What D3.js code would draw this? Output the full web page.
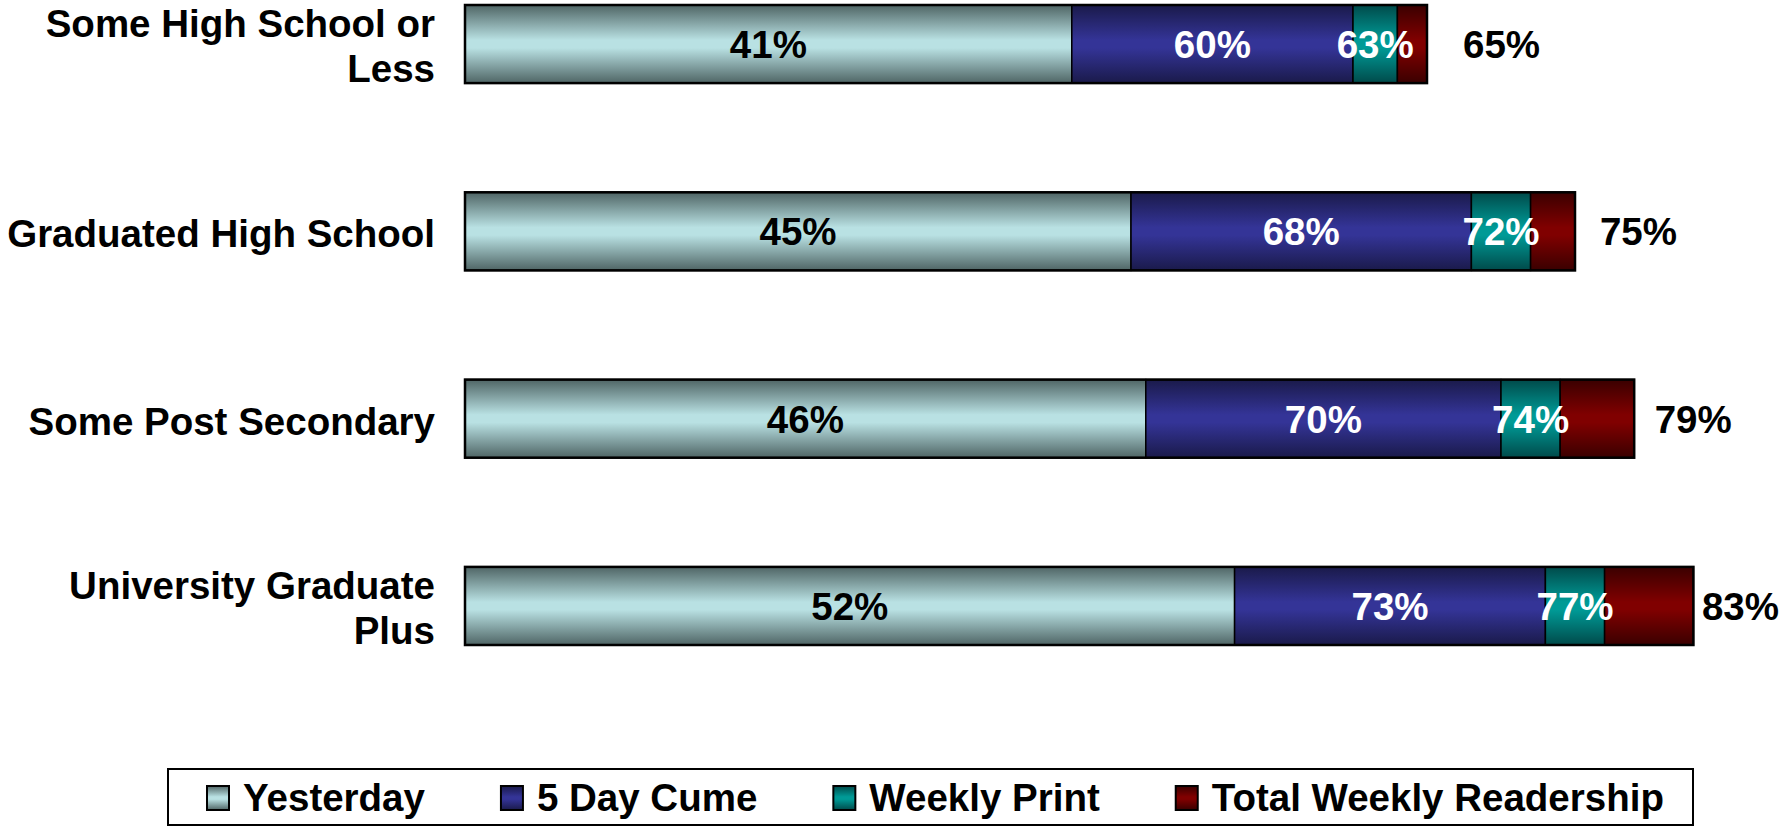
<!DOCTYPE html>
<html>
<head>
<meta charset="utf-8">
<script src="https://cdn.jsdelivr.net/npm/d3@7"></script>
<style>
  body { margin: 0; background: #fff; }
  svg text { font-family: "Liberation Sans", Arial, sans-serif; font-weight: bold; }
</style>
</head>
<body>
<svg id="chart" width="1787" height="829"></svg>
<script>
// categories, top to bottom
const categories = ["Some High School or Less", "Graduated High School", "Some Post Secondary", "University Graduate Plus"];
// cumulative reach (%), as labelled in the chart
const yesterday = [41, 45, 46, 52];
const fiveDayCume = [60, 68, 70, 73];
const weeklyPrint = [63, 72, 74, 77];
const totalWeekly = [65, 75, 79, 83];
const seriesNames = ["Yesterday", "5 Day Cume", "Weekly Print", "Total Weekly Readership"];

const width = 1787, height = 829;
const fs = 38.5;
const svg = d3.select("#chart");

const colors = [
  {dark: "#4f6565", light: "#b9e1e3"},
  {dark: "#1a1a4a", light: "#343497"},
  {dark: "#004a4a", light: "#009a96"},
  {dark: "#3a0000", light: "#800000"}
];

const defs = svg.append("defs");
colors.forEach((c, i) => {
  let g = defs.append("linearGradient").attr("id", "grad" + i)
    .attr("x1", 0).attr("y1", 0).attr("x2", 0).attr("y2", 1);
  g.append("stop").attr("offset", "0%").attr("stop-color", c.dark);
  g.append("stop").attr("offset", "45%").attr("stop-color", c.light);
  g.append("stop").attr("offset", "55%").attr("stop-color", c.light);
  g.append("stop").attr("offset", "100%").attr("stop-color", c.dark);
});

let xScale = d3.scaleLinear([0, 100], [465, 1945]);
let yScale = d3.scaleBand(categories, [5, 645]).paddingInner(0.583).paddingOuter(0);

// build segments from cumulative values
let series = [yesterday, fiveDayCume, weeklyPrint, totalWeekly];
let rows = categories.map((cat, i) => {
  let segs = [];
  let prev = 0;
  series.forEach((s, k) => {
    segs.push({cat: cat, k: k, x0: prev, x1: s[i]});
    prev = s[i];
  });
  return {cat: cat, segs: segs, total: totalWeekly[i]};
});

let barG = svg.append("g");
rows.forEach(r => {
  let y = yScale(r.cat), h = yScale.bandwidth();
  barG.selectAll(null).data(r.segs).enter().append("rect")
    .attr("x", d => xScale(d.x0))
    .attr("y", y)
    .attr("width", d => xScale(d.x1) - xScale(d.x0))
    .attr("height", h)
    .attr("fill", d => "url(#grad" + d.k + ")")
    .attr("stroke", "#000")
    .attr("stroke-width", 1.5);
  barG.append("rect")
    .attr("x", xScale(0)).attr("y", y)
    .attr("width", xScale(r.total) - xScale(0)).attr("height", h)
    .attr("fill", "none").attr("stroke", "#000").attr("stroke-width", 2.5);

  // inner labels (first three series)
  barG.selectAll(null).data(r.segs.slice(0, 3)).enter().append("text")
    .attr("x", d => xScale((d.x0 + d.x1) / 2))
    .attr("y", y + h / 2)
    .attr("dy", "0.36em")
    .attr("text-anchor", "middle")
    .attr("font-size", fs)
    .attr("fill", d => d.k === 0 ? "#000" : "#fff")
    .text(d => d.x1 + "%");
});

// total labels to the right of each bar, kept inside the page
let gapScale = d3.scaleLinear([65, 83], [36, 16]);
rows.forEach(r => {
  let t = barG.append("text")
    .attr("y", yScale(r.cat) + yScale.bandwidth() / 2)
    .attr("dy", "0.36em")
    .attr("font-size", fs)
    .attr("fill", "#000")
    .text(r.total + "%");
  let w = t.node().getComputedTextLength();
  t.attr("x", Math.min(xScale(r.total) + gapScale(r.total), width - w - 8));
});

// category labels, wrapped
let catG = svg.append("g");
rows.forEach(r => {
  let words = r.cat.split(" ");
  let lines = [];
  let line = [];
  let probe = catG.append("text").attr("font-size", fs);
  words.forEach(wd => {
    let test = line.concat([wd]).join(" ");
    probe.text(test);
    if (probe.node().getComputedTextLength() > 435 && line.length) {
      lines.push(line.join(" "));
      line = [wd];
    } else {
      line.push(wd);
    }
  });
  lines.push(line.join(" "));
  probe.remove();
  let cy = yScale(r.cat) + yScale.bandwidth() / 2;
  let lh = 45;
  let txt = catG.append("text")
    .attr("text-anchor", "end")
    .attr("font-size", fs)
    .attr("fill", "#000");
  lines.forEach((l, i) => {
    txt.append("tspan")
      .attr("x", 435)
      .attr("y", cy + (i - (lines.length - 1) / 2) * lh + 2)
      .attr("dy", "0.36em")
      .text(l);
  });
});

// legend
let leg = svg.append("g");
leg.append("rect").attr("x", 168).attr("y", 769).attr("width", 1525).attr("height", 56)
  .attr("fill", "#fff").attr("stroke", "#000").attr("stroke-width", 2);
let lx = 207;
seriesNames.forEach((name, i) => {
  leg.append("rect").attr("x", lx).attr("y", 786).attr("width", 22).attr("height", 24)
    .attr("fill", "url(#grad" + i + ")").attr("stroke", "#000").attr("stroke-width", 2);
  let t = leg.append("text").attr("x", lx + 36).attr("y", 797).attr("dy", "0.36em")
    .attr("font-size", fs).attr("fill", "#000").text(name);
  lx = lx + 36 + t.node().getComputedTextLength() + 76;
});
</script>
</body>
</html>
